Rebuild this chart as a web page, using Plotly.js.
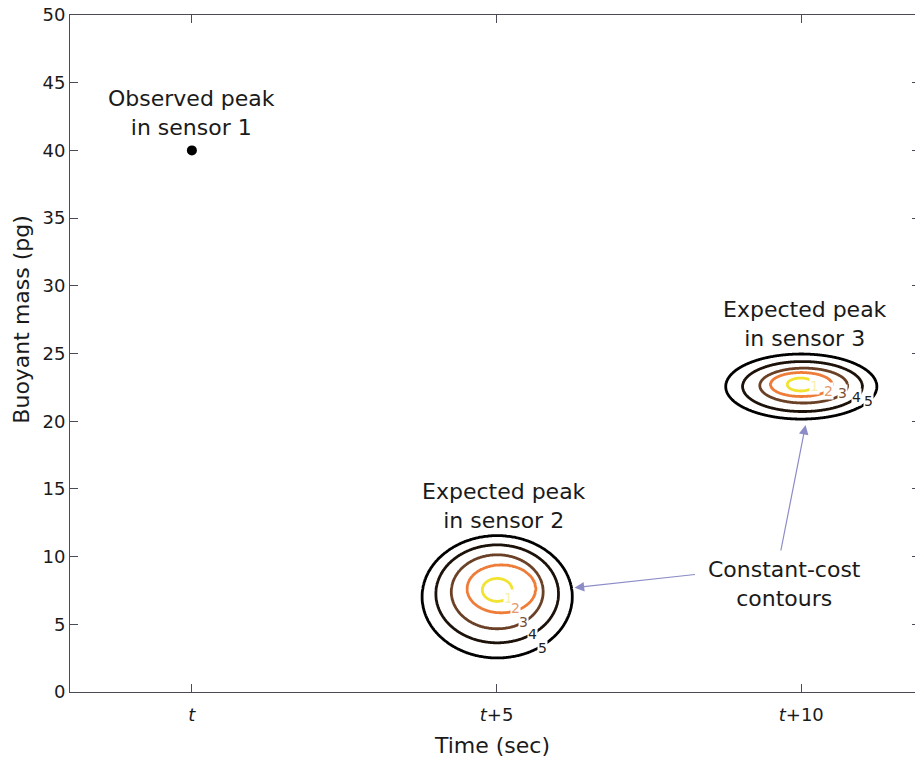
<!DOCTYPE html>
<html>
<head>
<meta charset="utf-8">
<script src="https://cdn.plot.ly/plotly-3.0.1.min.js"></script>
<style>
  html, body { margin: 0; padding: 0; overflow: hidden; background: #fff; }
  #chart { width: 915px; height: 758px; }
</style>
</head>
<body>
<div id="chart"></div>
<script>
// Cost contour levels drawn around each expected peak
const ringLevels = [1, 2, 3, 4, 5];

// Sensor 2: ring centres and half-extents (sec, pg) for each cost level
const s2CenterX    = [5.01, 5.08, 5.01, 5.01, 5.01];
const s2CenterY    = [7.54, 7.62, 7.40, 7.25, 7.03];
const s2HalfWidth  = [0.246, 0.566, 0.754, 1.008, 1.23];
const s2HalfHeight = [0.85, 1.78, 2.74, 3.62, 4.51];

// Sensor 3: ring centres and half-extents (sec, pg) for each cost level
const s3CenterX    = [9.99, 10.0, 10.04, 10.02, 10.0];
const s3CenterY    = [22.71, 22.71, 22.63, 22.56, 22.56];
const s3HalfWidth  = [0.221, 0.508, 0.721, 0.984, 1.238];
const s3HalfHeight = [0.48, 0.89, 1.29, 1.85, 2.40];

// Observed peak in sensor 1
const observedX = [0];
const observedY = [40];

// Time axis ticks
const timeTickVals = [0, 5, 10];
const timeTickText = ['<i>t</i>', '<i>t</i>+5', '<i>t</i>+10'];

// Cost at (x, y): equals the level value on each ring, linear in between
function costAt(x, y, cx, cy, hw, hh) {
  const r = cx.map((c, k) => Math.hypot((x - c) / hw[k], (y - cy[k]) / hh[k]));
  const n = ringLevels.length;
  if (r[0] <= 1) return ringLevels[0] * r[0];
  for (let k = 0; k < n - 1; k++) {
    if (r[k] >= 1 && r[k + 1] <= 1) {
      const f = (r[k] - 1) / (r[k] - r[k + 1]);
      return ringLevels[k] + f * (ringLevels[k + 1] - ringLevels[k]);
    }
  }
  return ringLevels[n - 1] + (r[n - 1] - 1) * 2;
}

function costSurface(cx, cy, hw, hh) {
  const outer = cx.length - 1;
  const x0 = cx[outer] - hw[outer] * 1.3, x1 = cx[outer] + hw[outer] * 1.3;
  const y0 = cy[outer] - hh[outer] * 1.3, y1 = cy[outer] + hh[outer] * 1.3;
  const nx = 220, ny = 220;
  const xs = [], ys = [], zs = [];
  for (let i = 0; i < nx; i++) xs.push(x0 + (x1 - x0) * i / (nx - 1));
  for (let j = 0; j < ny; j++) ys.push(y0 + (y1 - y0) * j / (ny - 1));
  for (let j = 0; j < ny; j++) {
    const row = [];
    for (let i = 0; i < nx; i++) row.push(costAt(xs[i], ys[j], cx, cy, hw, hh));
    zs.push(row);
  }
  return { xs, ys, zs };
}

const levelColors = [
  [0.00, '#f2e232'],
  [0.25, '#ef7d3a'],
  [0.50, '#6a4126'],
  [0.75, '#1c120a'],
  [1.00, '#000000']
];

function contourTrace(surf) {
  return {
    type: 'contour',
    x: surf.xs, y: surf.ys, z: surf.zs,
    zauto: false, zmin: ringLevels[0], zmax: ringLevels[ringLevels.length - 1],
    contours: { start: ringLevels[0], end: ringLevels[ringLevels.length - 1], size: 1, coloring: 'lines', showlabels: false },
    colorscale: levelColors,
    line: { width: 2.8, smoothing: 1 },
    showscale: false,
    hoverinfo: 'skip'
  };
}

const s2 = costSurface(s2CenterX, s2CenterY, s2HalfWidth, s2HalfHeight);
const s3 = costSurface(s3CenterX, s3CenterY, s3HalfWidth, s3HalfHeight);

const traces = [
  contourTrace(s2),
  contourTrace(s3),
  {
    type: 'scatter', mode: 'markers',
    x: observedX, y: observedY,
    marker: { color: '#000', size: 10 },
    hoverinfo: 'skip'
  },
  // carries the right-hand tick marks
  { type: 'scatter', mode: 'markers', x: [null], y: [null], yaxis: 'y2', hoverinfo: 'skip', showlegend: false }
];

const textFont = { family: 'DejaVu Sans, Verdana, sans-serif', size: 22, color: '#1a1a1a' };
const labelFont = (c) => ({ family: 'DejaVu Sans, Verdana, sans-serif', size: 14, color: c });

function levelLabel(text, x, y, color) {
  return {
    x, y, xref: 'x', yref: 'y', text, showarrow: false,
    font: labelFont(color), bgcolor: '#ffffff', borderpad: 0,
    xanchor: 'center', yanchor: 'middle'
  };
}

function arrow(x, y, ax, ay) {
  return {
    x, y, ax, ay, xref: 'x', yref: 'y', axref: 'x', ayref: 'y',
    text: '', showarrow: true, arrowhead: 2, arrowsize: 1.6,
    arrowwidth: 1.2, arrowcolor: '#8c8cc8', standoff: 0, startstandoff: 0
  };
}

const annotations = [
  { x: 0, y: 42.75, xref: 'x', yref: 'y', text: 'Observed peak<br>in sensor 1', showarrow: false, font: textFont, xanchor: 'center', yanchor: 'middle' },
  { x: 5.12, y: 13.75, xref: 'x', yref: 'y', text: 'Expected peak<br>in sensor 2', showarrow: false, font: textFont, xanchor: 'center', yanchor: 'middle' },
  { x: 10.06, y: 27.15, xref: 'x', yref: 'y', text: 'Expected peak<br>in sensor 3', showarrow: false, font: textFont, xanchor: 'center', yanchor: 'middle' },
  { x: 9.72, y: 7.95, xref: 'x', yref: 'y', text: 'Constant-cost<br>contours', showarrow: false, font: textFont, xanchor: 'center', yanchor: 'middle' },

  arrow(6.28, 7.70, 8.28, 8.69),
  arrow(10.07, 19.72, 9.66, 10.34),

  // level labels, sensor 2
  levelLabel('1', 5.20, 6.94, '#f7efb0'),
  levelLabel('2', 5.31, 6.21, '#e39a6c'),
  levelLabel('3', 5.44, 5.18, '#7a5038'),
  levelLabel('4', 5.59, 4.29, '#222222'),
  levelLabel('5', 5.75, 3.25, '#222222'),
  // level labels, sensor 3
  levelLabel('1', 10.22, 22.60, '#f7efb0'),
  levelLabel('2', 10.44, 22.26, '#e39a6c'),
  levelLabel('3', 10.67, 22.12, '#7a5038'),
  levelLabel('4', 10.90, 21.82, '#222222'),
  levelLabel('5', 11.11, 21.52, '#222222'),

  // y-axis title
  { x: -0.0568, y: 0.55, xref: 'paper', yref: 'paper', text: 'Buoyant mass (pg)', textangle: -90, showarrow: false, font: textFont, xanchor: 'center', yanchor: 'middle' }
];

const axisLine = '#4a4a58';
const tickFont = { family: 'DejaVu Sans, Verdana, sans-serif', size: 18, color: '#1a1a1a' };

const layout = {
  width: 915, height: 758,
  margin: { l: 70, r: 0, t: 15, b: 66 },
  paper_bgcolor: '#ffffff', plot_bgcolor: '#ffffff',
  showlegend: false,
  xaxis: {
    range: [-2, 11.866], tickvals: timeTickVals, ticktext: timeTickText,
    ticks: 'inside', ticklen: 8, tickcolor: axisLine, tickwidth: 1,
    showline: true, linecolor: axisLine, linewidth: 1, mirror: 'ticks',
    showgrid: false, zeroline: false, tickfont: tickFont, ticklabelstandoff: 6,
    title: { text: 'Time (sec)', font: textFont, standoff: 14 }
  },
  yaxis: {
    range: [0, 50], dtick: 5, tick0: 0,
    ticks: 'inside', ticklen: 8, tickcolor: axisLine, tickwidth: 1,
    showline: true, linecolor: axisLine, linewidth: 1, mirror: false,
    showgrid: false, zeroline: false, tickfont: tickFont
  },
  yaxis2: {
    overlaying: 'y', side: 'right', range: [0, 50], dtick: 5, tick0: 0,
    ticks: 'inside', ticklen: 3, tickcolor: axisLine, tickwidth: 1,
    showline: false, showgrid: false, zeroline: false, showticklabels: false
  },
  annotations
};

Plotly.newPlot('chart', traces, layout, { staticPlot: true, displayModeBar: false });
</script>
</body>
</html>
